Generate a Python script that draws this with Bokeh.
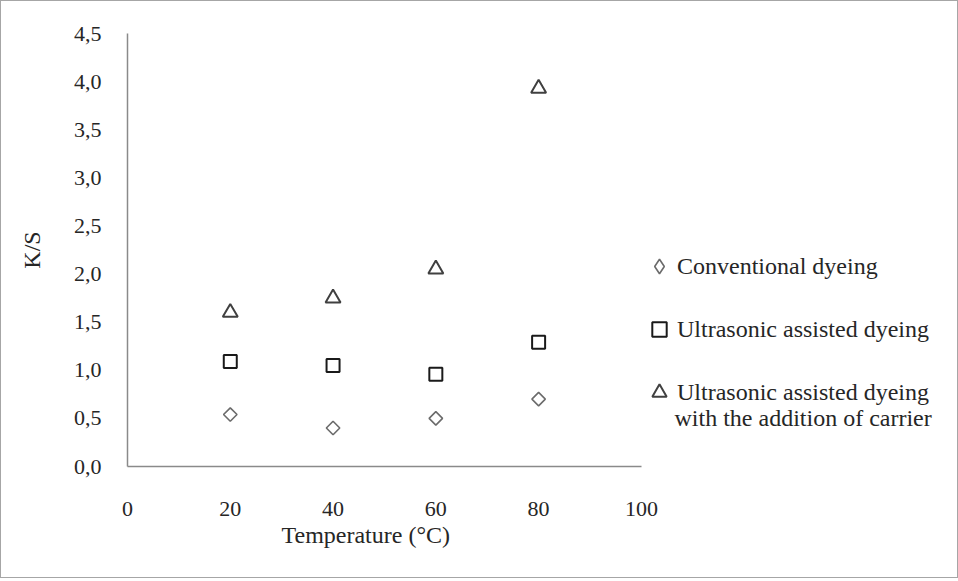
from bokeh.plotting import figure
from bokeh.models import Range1d, FixedTicker, Legend, LegendItem, Label, Title
from bokeh.embed import file_html
from bokeh.resources import INLINE
import numpy as np

# ---- data ----
temperature = [20, 40, 60, 80]
conventional = [0.54, 0.40, 0.50, 0.70]
ultrasonic = [1.09, 1.05, 0.96, 1.29]
ultrasonic_carrier = [1.60, 1.75, 2.05, 3.93]

series_labels = [
    "Conventional dyeing",
    "Ultrasonic assisted dyeing",
    "Ultrasonic assisted dyeing",
]
series_label_continuation = "with the addition of carrier"

x_ticks = [0, 20, 40, 60, 80, 100]
x_tick_labels = ["0", "20", "40", "60", "80", "100"]
y_ticks = [0, 0.5, 1.0, 1.5, 2.0, 2.5, 3.0, 3.5, 4.0, 4.5]
y_tick_labels = ["0,0", "0,5", "1,0", "1,5", "2,0", "2,5", "3,0", "3,5", "4,0", "4,5"]

x_title = "Temperature (°C)"
y_title = "K/S"

FONT = "Liberation Serif"
TXT = "#262626"
AXC = "#8a8a8a"

X_AXIS_MAX = 100
X_VIEW_MAX = 158.4   # extra room on the right for the legend

p = figure(width=958, height=578, output_backend="svg", toolbar_location=None,
           x_range=Range1d(0, X_VIEW_MAX), y_range=Range1d(0, 4.5),
           min_border_left=126, min_border_top=32, min_border_right=18,
           min_border_bottom=113, background_fill_color="white",
           border_fill_color="white")
p.outline_line_color = None
p.grid.visible = False
p.styles = {"border": "1px solid #a6a6a6", "box-sizing": "border-box"}

for ax in (p.xaxis[0], p.yaxis[0]):
    ax.axis_line_color = AXC
    ax.axis_line_width = 1.5
    ax.major_tick_line_color = None
    ax.minor_tick_line_color = None
    ax.major_tick_out = 0
    ax.major_tick_in = 0
    ax.major_label_text_font = FONT
    ax.major_label_text_font_size = "22px"
    ax.major_label_text_color = TXT
    ax.axis_label_text_font = FONT
    ax.axis_label_text_font_size = "24px"
    ax.axis_label_text_font_style = "normal"
    ax.axis_label_text_color = TXT

p.xaxis.bounds = (0, X_AXIS_MAX)
p.xaxis.ticker = FixedTicker(ticks=x_ticks)
p.xaxis.major_label_overrides = {t: l for t, l in zip(x_ticks, x_tick_labels)}
p.yaxis.ticker = FixedTicker(ticks=y_ticks)
p.yaxis.major_label_overrides = {t: l for t, l in zip(y_ticks, y_tick_labels)}
p.xaxis.major_label_standoff = 35
p.yaxis.major_label_standoff = 26
p.yaxis.axis_label = y_title
p.yaxis.axis_label_standoff = 26

# x-axis title, placed under the 0-100 part of the axis
p.add_layout(Title(text=x_title, align="left", offset=154, standoff=2,
                   text_font=FONT, text_font_size="24px", text_font_style="normal",
                   text_color=TXT), "below")

r1 = p.scatter(temperature, conventional, marker="square", size=9.5, angle=np.pi / 4,
               fill_color=None, line_color="#6b6b6b", line_width=1.6)
r1_key = p.scatter(temperature, conventional, marker="diamond", size=12,
                   fill_color=None, line_color="#6b6b6b", line_width=1.6, visible=False)
r2 = p.scatter(temperature, ultrasonic, marker="square", size=13,
               fill_color=None, line_color="#1a1a1a", line_width=2)
r3 = p.scatter(temperature, ultrasonic_carrier, marker="triangle", size=15,
               fill_color=None, line_color="#404040", line_width=2)

legend = Legend(items=[LegendItem(label=lab, renderers=[r]) for lab, r in
                       zip(series_labels, [r1_key, r2, r3])],
                location=(514, 56), padding=0, spacing=27,
                glyph_width=36, glyph_height=36, label_height=36,
                label_standoff=0, label_text_font=FONT,
                label_text_font_size="24px", label_text_color=TXT,
                border_line_color=None, background_fill_alpha=0,
                inactive_fill_alpha=0)
p.add_layout(legend, "center")

p.add_layout(Label(x=547, y=49, x_units="screen", y_units="screen",
                   text=series_label_continuation, text_font=FONT,
                   text_font_size="24px", text_color=TXT,
                   text_baseline="middle", text_align="left"))

open("out.html", "w").write(file_html(p, INLINE))
